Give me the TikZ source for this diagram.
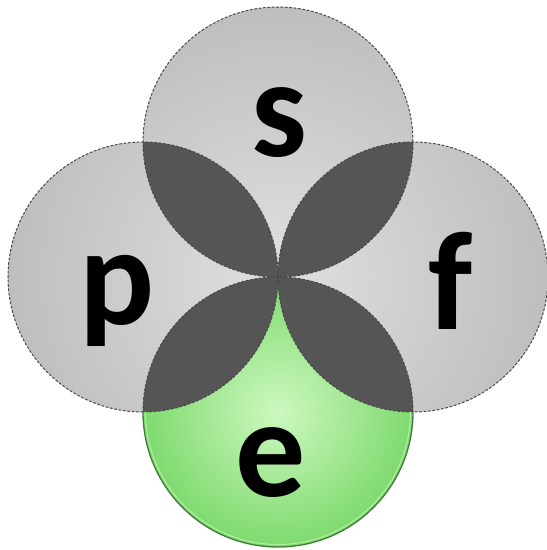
\documentclass[tikz,border=0pt]{standalone}
\usepackage{fontspec}
\setmainfont{Carlito}
\begin{document}
\begin{tikzpicture}[x=1pt,y=1pt]
\definecolor{lensgray}{HTML}{555555}
\definecolor{dashgray}{HTML}{4A4A4A}
\definecolor{grayin}{HTML}{E0E0E0}
\definecolor{grayout}{HTML}{BEBEBE}
\definecolor{greenin}{HTML}{CDF8C0}
\definecolor{greenout}{HTML}{7EDA6E}
\definecolor{greenedge}{HTML}{3E7E36}
\definecolor{greenring}{HTML}{B4EDA8}
\tikzset{
  outline/.style={draw=dashgray, line width=1pt, dash pattern=on 2.8pt off 1.6pt},
  letter/.style={font=\fontsize{140}{140}\selectfont\bfseries, inner sep=0pt, anchor=base, text=black}
}
\useasboundingbox (0,0) rectangle (547,550);
\fill[white] (0,0) rectangle (547,550);
\def\R{135}
\coordinate (C) at (278,273);
\coordinate (cs) at (278,408);
\coordinate (cp) at (143,273);
\coordinate (cf) at (413,273);
\coordinate (ce) at (278,138);
% gray circles
\begin{scope}
  \clip (cs) circle (\R) (cp) circle (\R) (cf) circle (\R);
  \shade[inner color=grayin, outer color=grayout] (C) circle (270);
\end{scope}
% green circle
\shade[inner color=greenin, outer color=greenout] (ce) circle (\R);
% dark lenses
\begin{scope}
  \clip (cs) circle (\R);
  \fill[lensgray] (cp) circle (\R);
  \fill[lensgray] (cf) circle (\R);
\end{scope}
\begin{scope}
  \clip (ce) circle (\R);
  \fill[lensgray] (cp) circle (\R);
  \fill[lensgray] (cf) circle (\R);
\end{scope}
% outlines
\draw[outline] (cs) circle (\R);
\draw[outline] (cp) circle (\R);
\draw[outline] (cf) circle (\R);
\draw[outline] (413,138) arc[start angle=0, end angle=180, radius=\R];
\draw[greenring, line width=1pt] (145.5,138) arc[start angle=180, end angle=360, radius=132.5];
\draw[greenedge, line width=1.3pt] (143,138) arc[start angle=180, end angle=360, radius=\R];
% letters
\node[letter] (s) at (279,393) {s};
\node[letter] (p) at (117,225) {p};
\node[letter] (f) at (451,220) {f};
\node[letter] (e) at (271,53) {e};
\end{tikzpicture}
\end{document}
